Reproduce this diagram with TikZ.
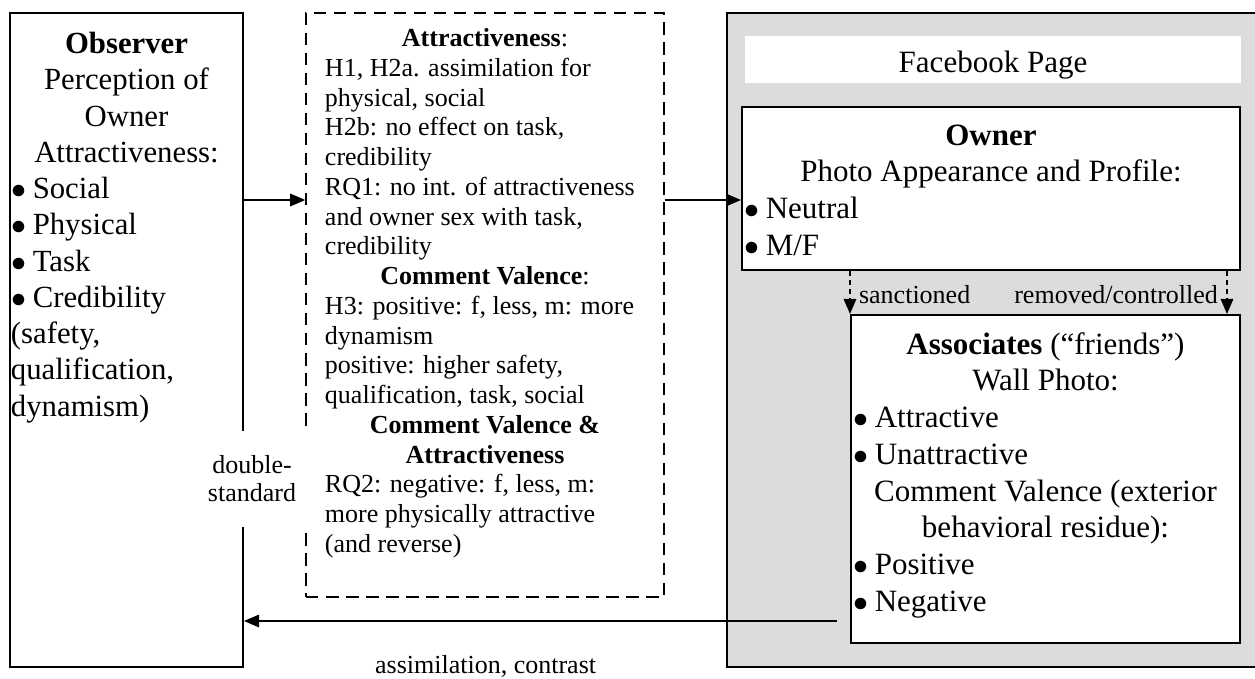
\documentclass[tikz,border=0pt]{standalone}
\usepackage{fontspec}
\setmainfont{Liberation Serif}
\usepackage{tikz}
\usetikzlibrary{arrows.meta}
\usetikzlibrary{positioning}
\definecolor{pagegray}{HTML}{DCDCDC}
\tikzset{
    box/.style={
           rectangle,
           draw=black, line width=0.8pt,
           fill=white,
           inner sep=0pt,
           },
    hypbox/.style={
           rectangle,
           draw=black, line width=0.6pt,
           dash pattern=on 5pt off 3pt,
           inner sep=0pt,
           },
    boxtext/.style={
           inner sep=0pt,
           },
    flow/.style={->, line width=0.6pt},
    dflow/.style={->, line width=0.6pt, dash pattern=on 2pt off 1.6pt},
}
\newcommand{\bigtxt}{\fontsize{12.3}{14.5}\selectfont}
\newcommand{\rgttxt}{\fontsize{12.4}{14.7}\selectfont}
\newcommand{\midtxt}{\fontsize{10.4}{11.9}\selectfont}
\newcommand{\lbltxt}{\fontsize{10.4}{11.2}\selectfont}
\newcommand{\cenrow}[1]{\multicolumn{1}{@{}c@{}}{#1}}
\newcommand{\itm}{\hspace{0.02em}$\bullet$\hspace{0.2em}}

\begin{document}
\begin{tikzpicture}[>={Triangle[length=6pt,width=5pt]}, x=0.4pt, y=-0.4pt]
 \useasboundingbox (0,0) rectangle (1255,679);
 \fill[pagegray] (727,13) rectangle (1255,667);
 \draw[line width=0.8pt] (1255,13) -- (727,13) -- (727,667) -- (1255,667);

 \node[box,
 minimum width=93.2pt,
 minimum height=261.6pt] (obs) at (126.5,340) {};
 \node[boxtext,
 below=6.3pt of obs.north,
 font=\bigtxt] (obstext)
 {%
 \begin{tabular}{@{}p{92.4pt}@{}}
  \cenrow{\textbf{Observer}}\\
  \cenrow{Perception of}\\
  \cenrow{Owner}\\
  \cenrow{Attractiveness:}\\
  \itm Social\\
  \itm Physical\\
  \itm Task\\
  \itm Credibility\\
  (safety,\\
  qualification,\\
  dynamism)
 \end{tabular}
 };

 \node[hypbox,
 minimum width=143.2pt,
 minimum height=233.6pt] (mid) at (485,305) {};
 \node[boxtext,
 below=5.2pt of mid.north,
 font=\midtxt] (midtext)
 {%
 \begin{tabular}{@{}p{128pt}@{}}
  \cenrow{\textbf{Attractiveness}:}\\
  H1, H2a. assimilation for\\
  physical, social\\
  H2b: no effect on task,\\
  credibility\\
  RQ1: no int. of attractiveness\\
  and owner sex with task,\\
  credibility\\
  \cenrow{\textbf{Comment Valence}:}\\
  H3: positive: f, less, m: more\\
  dynamism\\
  positive: higher safety,\\
  qualification, task, social\\
  \cenrow{\textbf{Comment Valence \&}}\\
  \cenrow{\textbf{Attractiveness}}\\
  RQ2: negative: f, less, m:\\
  more physically attractive\\
  (and reverse)
 \end{tabular}
 };

 \node[fill=white, inner sep=0pt,
 minimum width=198.4pt,
 minimum height=18.8pt,
 text height=10.8pt, text depth=0pt,
 font=\rgttxt] (fbpage) at (993,59.5) {Facebook Page};

 \node[box,
 minimum width=199.2pt,
 minimum height=65.2pt] (owner) at (991,188.5) {};
 \node[boxtext,
 below=5.2pt of owner.north,
 font=\rgttxt] (ownertext)
 {%
 \begin{tabular}{@{}p{197.6pt}@{}}
  \cenrow{\textbf{Owner}}\\
  \cenrow{Photo Appearance and Profile:}\\
  \itm Neutral\\
  \itm M/F
 \end{tabular}
 };

 \node[box,
 minimum width=155.6pt,
 minimum height=131.2pt] (asc) at (1045.5,479) {};
 \node[boxtext,
 below=5.6pt of asc.north,
 font=\rgttxt] (asctext)
 {%
 \begin{tabular}{@{}p{154pt}@{}}
  \cenrow{\textbf{Associates} (“friends”)}\\
  \cenrow{Wall Photo:}\\
  \itm Attractive\\
  \itm Unattractive\\
  \cenrow{Comment Valence (exterior}\\
  \cenrow{behavioral residue):}\\
  \itm Positive\\
  \itm Negative
 \end{tabular}
 };

 \node[fill=white, inner sep=0pt,
 minimum width=47.2pt,
 minimum height=38pt,
 align=center,
 font=\lbltxt] (dbl) at (252,479) {double-\\standard};

 \coordinate (hyprow) at (0,200);
 \coordinate (ret) at (837,621);
 \coordinate (rmv) at ([xshift=-5.6pt]asc.north east);

 \draw[flow] (obs.east |- hyprow) -- (mid.west |- hyprow);
 \draw[flow] (mid.east |- hyprow) -- (owner.west |- hyprow);
 \draw[dflow] (asc.north west |- owner.south) -- (asc.north west)
   node[pos=0.56, right, font=\lbltxt] {sanctioned};
 \draw[dflow] (rmv |- owner.south) -- (rmv)
   node[pos=0.56, left, font=\lbltxt] {removed/controlled};
 \draw[flow] (ret) -- (ret -| obs.east)
   node[pos=0.5926, yshift=-18pt, font=\lbltxt] {assimilation, contrast};
\end{tikzpicture}
\end{document}
